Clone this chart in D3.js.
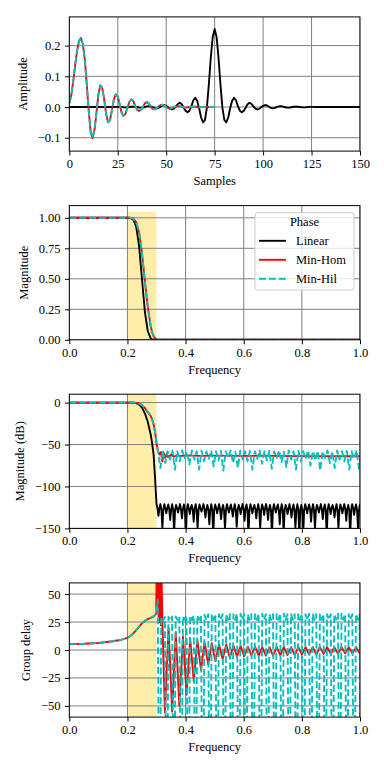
<!DOCTYPE html>
<html>
<head>
<meta charset="utf-8">
<script src="https://cdn.jsdelivr.net/npm/d3@7"></script>
<style>
body { margin: 0; background: #fff; }
svg, svg text { font-family: "Liberation Serif", "DejaVu Serif", serif; }
svg { display: block; }
</style>
</head>
<body>
<svg id="fig" width="384" height="768"></svg>
<script>
// ---- data ----
var seriesNames = ["Linear", "Min-Hom", "Min-Hil"];
var transBand = [0.2, 0.3];

var sampleTicks = [0, 25, 50, 75, 100, 125, 150];
var ampTicks = [-0.1, 0, 0.1, 0.2];
var freqTicks = [0, 0.2, 0.4, 0.6, 0.8, 1.0];
var magTicks = [0, 0.25, 0.5, 0.75, 1];
var dbTicks = [-150, -100, -50, 0];
var gdTicks = [-50, -25, 0, 25, 50];

// impulse responses (one value per sample)
var linImp = [
  0,0,0,0,0,0,0,0,0,0,
  0,0,0,0,0,0,0,0,0,0,
  0,0,0,0,0.0005,0.0006,0.0005,0,-0.0008,-0.001,
  -0.0008,0,0.001,0.0015,0.001,0,-0.0015,-0.002,-0.0015,0,
  0.002,0.003,0.002,0,-0.003,-0.0045,-0.003,0.001,0.005,0.0065,
  0.004,-0.001,-0.006,-0.0075,-0.005,0.002,0.010,0.014,0.009,-0.002,
  -0.012,-0.017,-0.012,0.003,0.022,0.030,0.020,-0.004,-0.034,-0.050,
  -0.042,-0.002,0.074,0.160,0.228,0.254,0.228,0.160,0.074,-0.002,
  -0.042,-0.050,-0.034,-0.004,0.020,0.030,0.022,0.003,-0.012,-0.017,
  -0.012,-0.002,0.009,0.014,0.010,0.002,-0.005,-0.0075,-0.006,-0.001,
  0.004,0.0065,0.005,0.001,-0.003,-0.0045,-0.003,0,0.002,0.003,
  0.002,0,-0.0015,-0.002,-0.0015,0,0.001,0.0015,0.001,0,
  -0.0008,-0.001,-0.0008,0,0.0005,0.0006,0.0005,0,0,0,
  0,0,0,0,0,0,0,0,0,0,
  0,0,0,0,0,0,0,0,0,0,
  0
];
var homImp = [
  0.012,0.038,0.082,0.135,0.183,0.215,0.225,0.205,0.155,0.075,
  -0.010,-0.080,-0.101,-0.075,-0.020,0.040,0.071,0.062,0.025,-0.022,
  -0.050,-0.043,-0.010,0.025,0.041,0.034,0.008,-0.018,-0.029,-0.022,
  -0.002,0.017,0.025,0.020,0.004,-0.009,-0.013,-0.009,0.002,0.012,
  0.016,0.012,0.002,-0.006,-0.0075,-0.004,0.002,0.006,0.0075,0.005,
  0,-0.003,-0.004,-0.003,0,0.002,0.003,0.002,0,-0.001,
  -0.002,-0.001,0,0.001,0.001,0.001,0,0,0,0,
  0,0,0,0,0,0
];
var hilImp = [
  0.012,0.038,0.082,0.135,0.183,0.215,0.225,0.205,0.155,0.075,
  -0.010,-0.080,-0.101,-0.075,-0.020,0.040,0.071,0.062,0.025,-0.022,
  -0.050,-0.043,-0.010,0.025,0.041,0.034,0.008,-0.018,-0.029,-0.022,
  -0.002,0.017,0.025,0.020,0.004,-0.009,-0.013,-0.009,0.002,0.012,
  0.016,0.012,0.002,-0.006,-0.0075,-0.004,0.002,0.006,0.0075,0.005,
  0,-0.003,-0.004,-0.003,0,0.002,0.003,0.002,0,-0.001,
  -0.002,-0.001,0,0.001,0.001,0.001,0,0,0,0,
  0,0,0,0,0,0
];

// passband / transition band frequencies
var fPass = [0, 0.1, 0.2, 0.21, 0.22, 0.23, 0.24, 0.25, 0.26, 0.27, 0.28, 0.285, 0.29, 0.295, 0.3];

// magnitude (linear)
var linMag = [1, 1, 1, 0.999, 0.985, 0.93, 0.77, 0.50, 0.23, 0.07, 0.012, 0.004, 0.001, 0.0002, 0];
var homMag = [1, 1, 1, 1, 0.993, 0.965, 0.88, 0.71, 0.48, 0.27, 0.11, 0.06, 0.03, 0.012, 0.004];
var hilMag = [1, 1, 1, 1, 0.993, 0.965, 0.88, 0.71, 0.48, 0.27, 0.11, 0.06, 0.03, 0.012, 0.004];
var fMagEnd = [0.31, 1.0];
var linMagEnd = [0, 0];
var homMagEnd = [0.001, 0.001];
var hilMagEnd = [0.001, 0.001];

// magnitude (dB), passband part
var linDb = [0, 0, 0, -0.01, -0.13, -0.63, -2.3, -6, -12.8, -23, -38, -49, -62, -90, -121];
var homDb = [0, 0, 0, 0, -0.06, -0.3, -1.1, -3, -6.4, -11.4, -16, -20, -26, -35, -48];
var hilDb = [0, 0, 0, 0, -0.06, -0.3, -1.1, -3, -6.4, -11.4, -16, -20, -26, -35, -48];

// linear stopband: top, shoulder, null, shoulder ... from 0.3 every 0.003365
var linStopStart = 0.3, linStopStep = 0.003365;
var linDbStop = [
  -121,-126,-135,-126, -121,-128,-150,-127, -121,-126,-132,-126, -121.5,-127,-140,-127,
  -121,-128,-155,-128, -122,-126,-131,-126, -121,-127,-138,-127, -121.5,-128,-160,-128,
  -121,-126,-133,-126, -122,-127,-142,-127, -121,-128,-150,-128, -121.5,-126,-130,-126,
  -121,-127,-137,-127, -122,-128,-145,-128, -121,-128,-160,-128, -121.5,-126,-132,-126,
  -121,-127,-139,-127, -122,-128,-150,-128, -121,-126,-131,-126, -121.5,-127,-136,-127,
  -121,-128,-148,-128, -122,-126,-133,-126, -121,-127,-141,-127, -121.5,-128,-160,-128,
  -121,-126,-132,-126, -122,-127,-138,-127, -121,-128,-150,-128, -121.5,-126,-134,-126,
  -121,-127,-140,-127, -122,-128,-160,-128, -121,-126,-131,-126, -121.5,-128,-145,-128,
  -121,-128,-155,-128, -122,-126,-133,-126, -121,-127,-137,-127, -121.5,-128,-150,-128,
  -121,-128,-160,-128, -122,-128,-155,-128, -121,-126,-132,-126, -121.5,-127,-142,-127,
  -121,-128,-150,-128, -122,-126,-131,-126, -121,-127,-139,-127, -121.5,-128,-160,-128,
  -121,-126,-133,-126, -122,-127,-137,-127, -121,-128,-150,-128, -121.5,-126,-132,-126,
  -121,-127,-141,-127, -122,-128,-160,-128, -121,-126,-134,-126, -121.5,-128,-150,-128,
  -121
];
// homomorphic stopband
var fHomStop = [0.305, 0.31, 0.315, 0.32, 0.325, 0.33, 0.335, 0.34, 0.35, 0.36, 0.37, 0.38, 0.4, 0.45, 0.5, 0.6, 0.7, 0.8, 0.9, 1.0];
var homDbStop = [-58, -62, -59, -70, -60, -66, -61, -65, -62, -64.5, -62.5, -64, -63, -63.5, -63.3, -63.5, -63.6, -63.8, -64, -64];
// hilbert stopband: alternating dip / top, from 0.3133 every 0.00833
var hilStopStart = 0.3133, hilStopStep = 0.00833;
var hilDbStop = [
  -78,-57, -72,-58, -68,-57.5, -80,-58, -70,-57, -66,-58.5, -74,-57, -68,-58,
  -80,-57.5, -70,-58, -67,-57, -76,-58, -69,-57.5, -81,-58, -66,-57, -72,-58.5,
  -78,-57, -68,-58, -70,-57.5, -80,-58, -67,-57, -73,-58, -69,-57.5, -79,-58,
  -66,-57, -71,-58.5, -77,-57, -68,-58, -80,-57.5, -70,-58, -67,-57, -75,-58,
  -69,-57.5, -81,-58, -66,-57, -72,-58.5, -78,-57, -68,-58, -70,-57.5, -80,-58,
  -67,-57, -79,-58
];

// group delay
var fGd = [0, 0.05, 0.1, 0.15, 0.18, 0.2, 0.21, 0.22, 0.23, 0.24, 0.25, 0.26, 0.27, 0.28, 0.29, 0.295, 0.3];
var linGd = [75, 75, 75, 75, 75, 75, 75, 75, 75, 75, 75, 75, 75, 75, 75, 75, 75];
var homGd = [5.3, 5.6, 6.3, 7.8, 9.2, 10.9, 12.5, 14.8, 17.8, 21, 23.8, 26, 27.6, 28.8, 30, 31, 33];
var hilGd = [5.3, 5.6, 6.3, 7.8, 9.2, 10.9, 12.5, 14.8, 17.8, 21, 23.8, 26, 27.6, 28.8, 30, 31, 33];
var fHomSpike = [0.299, 0.301, 0.303, 0.305, 0.307, 0.309, 0.311, 0.313, 0.315, 0.317, 0.321];
var homGdSpike = [40, 75, 38, 90, 30, 85, 25, 80, 22, 70, 18];
// homomorphic ripple: alternating trough / peak from 0.329 every 0.0124
var homRipStart = 0.329, homRipStep = 0.0124;
var homGdRip = [
  -56, 20, -55, 16, -50, 12, -40, 10, -28, 9, -18, 7, -13, 6, -10, 5,
  -8, 5, -7, 4, -6, 3.5, -5.5, 3, -5, 3, -5, 2.5, -5, 2.5, -5, 2.5,
  -4.5, 2.5, -4.5, 2.5, -4.5, 2.5, -4, 2.5, -4, 2.5, -4, 2.5, -3.5, 2.5, -3.5, 2.5,
  -3.5, 2.5, -3, 2.5, -3, 2.5, -3
];
// hilbert ripple: from 0.304 every 0.0062, deep dips every fourth value
var hilRipStart = 0.304, hilRipStep = 0.0062;
var hilGdRip = [
  45,
  -200, 29, 26, 29.5,  -200, 29.5, 26.5, 30,  -200, 30, 27, 30,  -200, 30, 27, 30.5,
  -200, 30.5, 27, 31,  -200, 31, 27, 31,  -200, 31.5, 27, 32,  -200, 32, 27, 32,
  -200, 32, 27, 32,  -200, 32, 27, 32,  -200, 32, 27, 32.5,  -200, 32.5, 27, 32,
  -200, 32, 27, 32,  -200, 32, 27, 32.5,  -200, 32.5, 27, 32,  -200, 32, 27, 32,
  -200, 32, 27, 32.5,  -200, 32.5, 27, 32,  -200, 32, 27, 32,  -200, 32, 27, 32,
  -200, 32, 27, 32.5,  -200, 32.5, 27, 32,  -200, 32, 27, 32,  -200, 32, 27, 32,
  -200, 32, 27, 32.5,  -200, 32.5, 27, 32,  -200, 32, 27, 32,  -200, 32, 27, 32,
  -200
];

// ---- helpers ----
function zipPts(xs, ys) { return xs.map(function(v, i) { return [v, ys[i]]; }); }
function stepPts(x0, dx, ys) { return ys.map(function(v, i) { return [x0 + i * dx, v]; }); }
function idxPts(ys) { return ys.map(function(v, i) { return [i, v]; }); }

var colors = ["#000000", "#ff0000", "#00bfbf"];
var dashes = [null, null, "6.9,3"];
var lw = 1.875;
var fontSize = 12.5;
var serif = "'Liberation Serif', 'DejaVu Serif', serif";

var svg = d3.select("#fig");
var left = 69.3, right = 360, ph = 134.2;
var tops = [16.9, 205.6, 394.2, 582.9];

function panel(i, cfg) {
	var top = tops[i];
	var x = d3.scaleLinear().domain(cfg.xDomain).range([left, right]);
	var y = d3.scaleLinear().domain(cfg.yDomain).range([top + ph, top]);
	var g = svg.append("g");

	svg.append("clipPath").attr("id", "clip" + i)
		.append("rect").attr("x", left).attr("y", top).attr("width", right - left).attr("height", ph);
	var plot = g.append("g").attr("clip-path", "url(#clip" + i + ")");

	// transition band
	plot.append("rect")
		.attr("x", x(transBand[0]))
		.attr("width", x(transBand[1]) - x(transBand[0]))
		.attr("y", y(cfg.band[1]))
		.attr("height", y(cfg.band[0]) - y(cfg.band[1]))
		.attr("fill", "#ffeeaa");

	// grid
	plot.selectAll(".gx").data(cfg.xTicks).join("line")
		.attr("x1", function(d) { return x(d); }).attr("x2", function(d) { return x(d); })
		.attr("y1", top).attr("y2", top + ph)
		.attr("stroke", "#808080").attr("stroke-width", 1);
	plot.selectAll(".gy").data(cfg.yTicks).join("line")
		.attr("y1", function(d) { return y(d); }).attr("y2", function(d) { return y(d); })
		.attr("x1", left).attr("x2", right)
		.attr("stroke", "#808080").attr("stroke-width", 1);

	var line = d3.line()
		.x(function(d) { return x(d[0]); })
		.y(function(d) { return y(d[1]); });

	cfg.series.forEach(function(pts, k) {
		plot.append("path")
			.datum(pts)
			.attr("d", line)
			.attr("fill", "none")
			.attr("stroke", colors[k])
			.attr("stroke-width", lw)
			.attr("stroke-linejoin", "round")
			.attr("stroke-dasharray", dashes[k]);
	});

	// frame
	g.append("rect").attr("x", left).attr("y", top).attr("width", right - left).attr("height", ph)
		.attr("fill", "none").attr("stroke", "#000").attr("stroke-width", 1);

	var ax = g.append("g").attr("transform", "translate(0," + (top + ph) + ")")
		.call(d3.axisBottom(x).tickValues(cfg.xTicks).tickFormat(cfg.xFmt)
			.tickSizeInner(4.4).tickSizeOuter(0).tickPadding(3.6));
	var ay = g.append("g").attr("transform", "translate(" + left + ",0)")
		.call(d3.axisLeft(y).tickValues(cfg.yTicks).tickFormat(cfg.yFmt)
			.tickSizeInner(4.4).tickSizeOuter(0).tickPadding(4.4));
	[ax, ay].forEach(function(a) {
		a.attr("font-family", null).attr("font-size", null);
		a.select(".domain").remove();
		a.selectAll("line").attr("stroke", "#000").attr("stroke-width", 1);
		a.selectAll("text").attr("fill", "#000")
			.style("font-size", fontSize + "px").style("font-family", serif);
	});

	var maxW = 0;
	ay.selectAll("text").each(function() { maxW = Math.max(maxW, this.getBBox().width); });

	g.append("text")
		.attr("x", (left + right) / 2).attr("y", top + ph + 34)
		.attr("text-anchor", "middle")
		.style("font-size", fontSize + "px").style("font-family", serif)
		.text(cfg.xLabel);
	var lx = left - 8.8 - maxW - 10.5;
	g.append("text")
		.attr("transform", "translate(" + lx + "," + (top + ph / 2) + ") rotate(-90)")
		.attr("text-anchor", "middle")
		.style("font-size", fontSize + "px").style("font-family", serif)
		.text(cfg.yLabel);

	return { x: x, y: y, g: g };
}

var f1 = d3.format(".1f"), f2 = d3.format(".2f"), f0 = d3.format("d");

panel(0, {
	xDomain: [0, 150], yDomain: [-0.1435, 0.2935],
	band: [-0.123, 0.273],
	xTicks: sampleTicks, yTicks: ampTicks, xFmt: f0, yFmt: f1,
	xLabel: "Samples", yLabel: "Amplitude",
	series: [idxPts(linImp), idxPts(homImp), idxPts(hilImp)]
});

panel(1, {
	xDomain: [0, 1], yDomain: [0, 1.1],
	band: [-0.05, 1.05],
	xTicks: freqTicks, yTicks: magTicks, xFmt: f1, yFmt: f2,
	xLabel: "Frequency", yLabel: "Magnitude",
	series: [
		zipPts(fPass, linMag).concat(zipPts(fMagEnd, linMagEnd)),
		zipPts(fPass, homMag).concat(zipPts(fMagEnd, homMagEnd)),
		zipPts(fPass, hilMag).concat(zipPts(fMagEnd, hilMagEnd))
	]
});

panel(2, {
	xDomain: [0, 1], yDomain: [-150, 10],
	band: [-1000, 1000],
	xTicks: freqTicks, yTicks: dbTicks, xFmt: f1, yFmt: f0,
	xLabel: "Frequency", yLabel: "Magnitude (dB)",
	series: [
		zipPts(fPass, linDb).concat(stepPts(linStopStart, linStopStep, linDbStop)),
		zipPts(fPass, homDb).concat(zipPts(fHomStop, homDbStop)),
		zipPts(fPass, hilDb).concat([[0.305, -58]], stepPts(hilStopStart, hilStopStep, hilDbStop))
	]
});

panel(3, {
	xDomain: [0, 1], yDomain: [-60, 60],
	band: [-1000, 1000],
	xTicks: freqTicks, yTicks: gdTicks, xFmt: f1, yFmt: f0,
	xLabel: "Frequency", yLabel: "Group delay",
	series: [
		zipPts(fGd, linGd).concat([[1, 75]]),
		zipPts(fGd, homGd).concat(zipPts(fHomSpike, homGdSpike), stepPts(homRipStart, homRipStep, homGdRip)),
		zipPts(fGd, hilGd).concat(stepPts(hilRipStart, hilRipStep, hilGdRip))
	]
});

// legend
var leg = svg.append("g").style("font-family", serif).style("font-size", fontSize + "px");
leg.append("rect").attr("x", 255).attr("y", 212.7).attr("width", 99).attr("height", 77.3)
	.attr("rx", 2.5).attr("fill", "#fff").attr("fill-opacity", 0.8)
	.attr("stroke", "#cccccc").attr("stroke-width", 1);
leg.append("text").attr("x", 304.5).attr("y", 226).attr("text-anchor", "middle").text("Phase");
seriesNames.forEach(function(name, k) {
	var yy = 240.8 + k * 19;
	leg.append("line").attr("x1", 259).attr("x2", 286).attr("y1", yy).attr("y2", yy)
		.attr("stroke", colors[k]).attr("stroke-width", lw).attr("stroke-dasharray", dashes[k]);
	leg.append("text").attr("x", 296).attr("y", yy + 4.2).text(name);
});
</script>
</body>
</html>
